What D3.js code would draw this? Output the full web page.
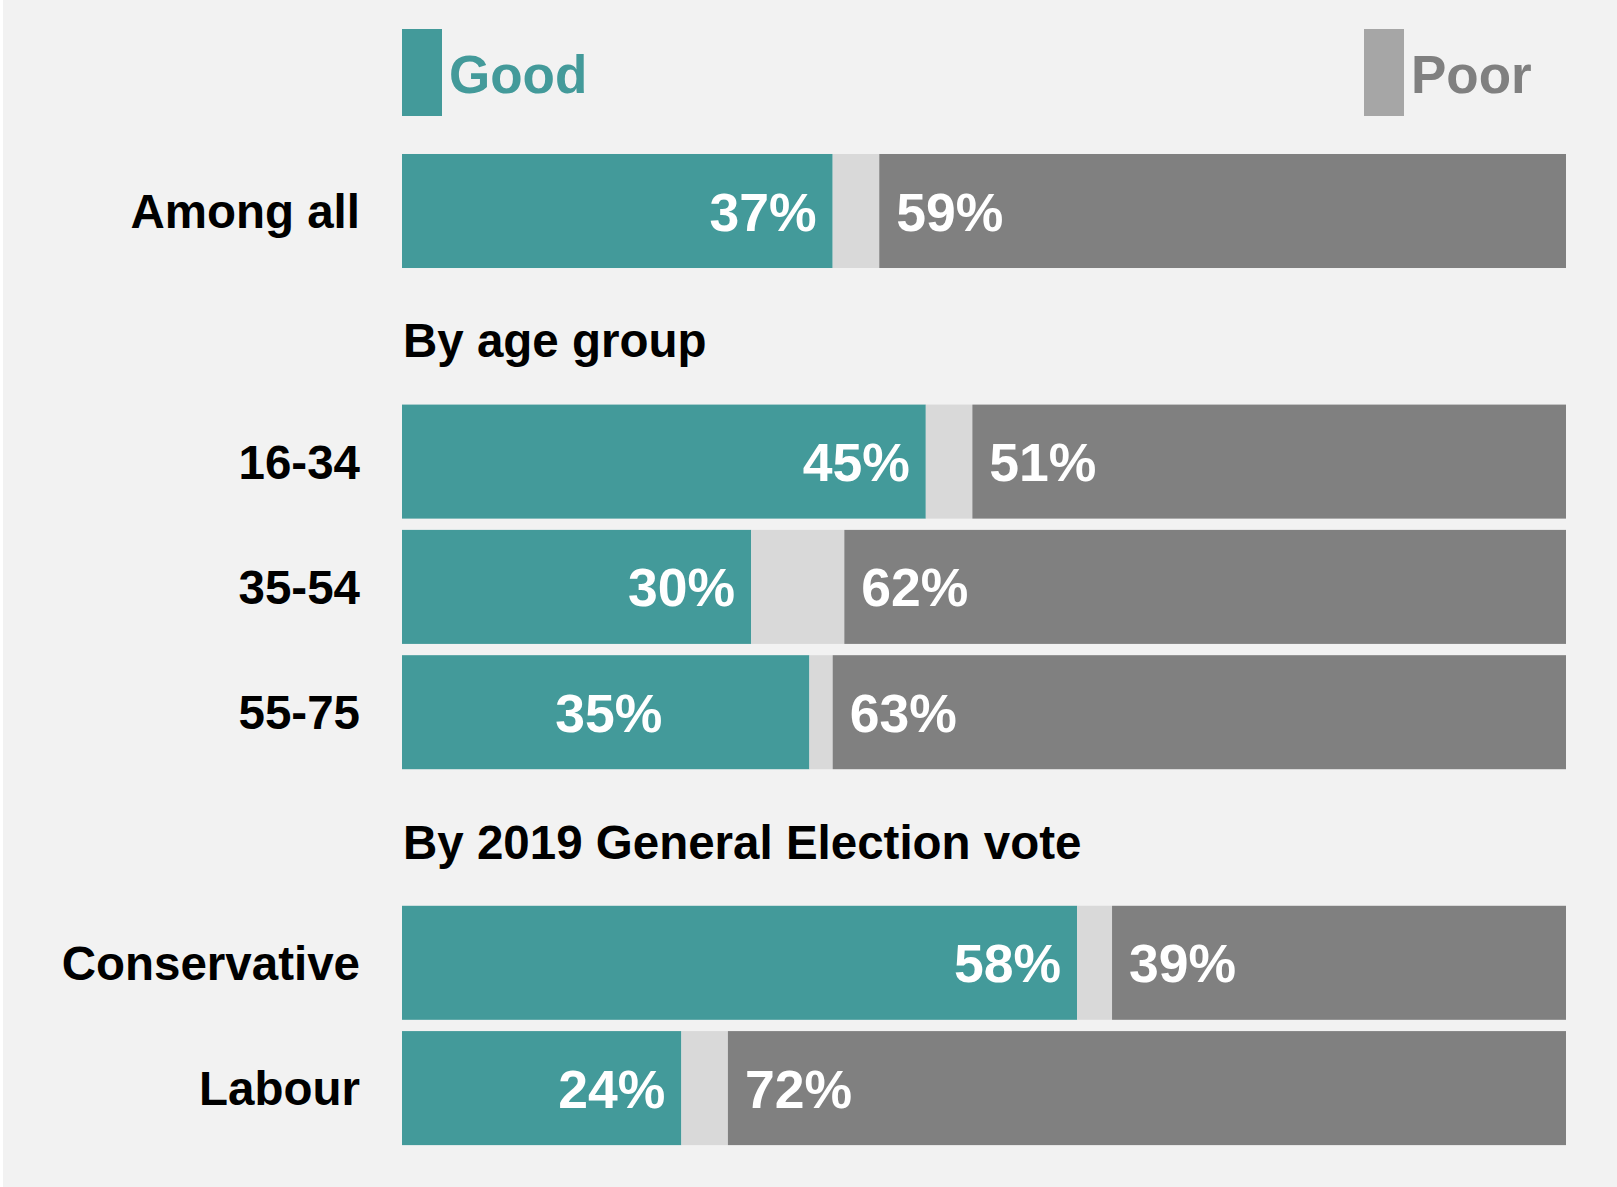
<!DOCTYPE html>
<meta charset="utf-8">
<script src="https://d3js.org/d3.v7.min.js"></script>
<style>
  body { margin: 0; background: #ffffff; }
  text { font-family: "Liberation Sans", Arial, sans-serif; font-weight: bold; }
</style>
<div id="chart"></div>
<script>

// data
var categories = ["Among all", "16-34", "35-54", "55-75", "Conservative", "Labour"];
var good      = [37, 45, 30, 35, 58, 24];
var dontKnow  = [4, 4, 8, 2, 3, 4];
var poor      = [59, 51, 62, 63, 39, 72];
var sections  = ["By age group", "By 2019 General Election vote"];
var legendLabels = ["Good", "Poor"];

var width = 1617, height = 1187;
var teal = "#439a9a", dkGrey = "#d9d9d9", poorGrey = "#808080";

var svg = d3.select("#chart")
  .append("svg")
    .attr("width", width)
    .attr("height", height);

svg.append("rect")
  .attr("x", 3).attr("y", 0)
  .attr("width", width - 3).attr("height", height)
  .attr("fill", "#f2f2f2");

// one slot per row, section headers take a slot too
var rowOrder = [categories[0], sections[0]]
  .concat(categories.slice(1, 4), [sections[1]], categories.slice(4));

var y = d3.scaleBand()
  .domain(rowOrder)
  .range([148.35, 1150.75])
  .paddingInner(0.09)
  .paddingOuter(0.045);

var x = d3.scaleLinear()
  .domain([0, 100])
  .range([402, 1566]);

var rows = categories.map(function(c, i) {
  return { cat: c, good: good[i], dk: dontKnow[i], poor: poor[i] };
});

var row = svg.selectAll("g.row")
  .data(rows)
  .enter().append("g")
    .attr("class", "row");

// good
row.append("rect")
  .attr("x", x(0))
  .attr("y", function(d) { return y(d.cat); })
  .attr("width", function(d) { return x(d.good) - x(0); })
  .attr("height", y.bandwidth())
  .attr("fill", teal);

// don't know
row.append("rect")
  .attr("x", function(d) { return x(d.good); })
  .attr("y", function(d) { return y(d.cat); })
  .attr("width", function(d) { return x(d.good + d.dk) - x(d.good); })
  .attr("height", y.bandwidth())
  .attr("fill", dkGrey);

// poor
row.append("rect")
  .attr("x", function(d) { return x(d.good + d.dk); })
  .attr("y", function(d) { return y(d.cat); })
  .attr("width", function(d) { return x(100) - x(d.good + d.dk); })
  .attr("height", y.bandwidth())
  .attr("fill", poorGrey);

// category labels
row.append("text")
  .attr("x", 360)
  .attr("y", function(d) { return y(d.cat) + y.bandwidth() / 2 + 17; })
  .attr("text-anchor", "end")
  .attr("font-size", 47.5)
  .attr("fill", "#000")
  .text(function(d) { return d.cat; });

// good % labels (the 55-75 one sits in the middle of its bar in the original)
row.append("text")
  .attr("x", function(d) {
    return d.cat === "55-75" ? (x(0) + x(d.good)) / 2 + 3 : x(d.good) - 16;
  })
  .attr("y", function(d) { return y(d.cat) + y.bandwidth() / 2 + 19.5; })
  .attr("text-anchor", function(d) { return d.cat === "55-75" ? "middle" : "end"; })
  .attr("font-size", 53.5)
  .attr("fill", "#fff")
  .text(function(d) { return d.good + "%"; });

// poor % labels
row.append("text")
  .attr("x", function(d) { return x(d.good + d.dk) + 17; })
  .attr("y", function(d) { return y(d.cat) + y.bandwidth() / 2 + 19.5; })
  .attr("font-size", 53.5)
  .attr("fill", "#fff")
  .text(function(d) { return d.poor + "%"; });

// section headers
svg.selectAll("text.section")
  .data(sections)
  .enter().append("text")
    .attr("class", "section")
    .attr("x", 403)
    .attr("y", function(d) { return y(d) + y.bandwidth() / 2 + 21; })
    .attr("font-size", 47.5)
    .attr("fill", "#000")
    .text(function(d) { return d; });

// legend
var legend = [
  { label: legendLabels[0], swatch: teal, color: teal, x: 402 },
  { label: legendLabels[1], swatch: "#a6a6a6", color: "#808080", x: 1364 }
];

var lg = svg.selectAll("g.legend")
  .data(legend)
  .enter().append("g")
    .attr("class", "legend");

lg.append("rect")
  .attr("x", function(d) { return d.x; })
  .attr("y", 29)
  .attr("width", 40)
  .attr("height", 87)
  .attr("fill", function(d) { return d.swatch; });

lg.append("text")
  .attr("x", function(d) { return d.x + 47; })
  .attr("y", 93)
  .attr("font-size", 53)
  .attr("fill", function(d) { return d.color; })
  .text(function(d) { return d.label; });

</script>
